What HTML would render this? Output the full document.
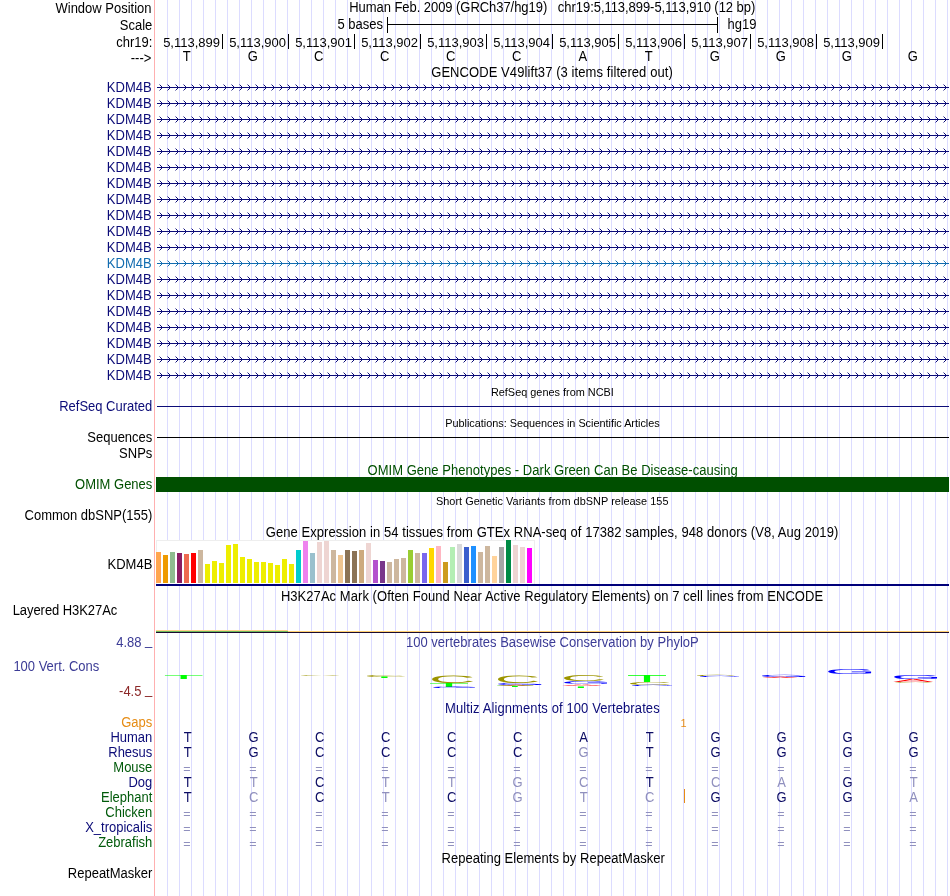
<!DOCTYPE html>
<html lang="en"><head><meta charset="utf-8"><title>UCSC Genome Browser chr19:5,113,899-5,113,910</title>
<style>html,body{margin:0;padding:0;background:#fff;}svg{display:block;will-change:transform;-webkit-font-smoothing:antialiased;font-family:"Liberation Sans",Arial,Helvetica,sans-serif;}</style>
</head><body>
<svg width="950" height="896" viewBox="0 0 950 896">
<defs>
<pattern id="chN" x="157" y="84" width="8" height="16" patternUnits="userSpaceOnUse">
<rect x="2" y="0" width="1" height="1" fill="#0c0c78" opacity="0.45"/>
<rect x="3" y="1" width="1" height="1" fill="#0c0c78"/>
<rect x="4" y="2" width="1" height="3" fill="#0c0c78"/>
<rect x="3" y="5" width="1" height="1" fill="#0c0c78"/>
<rect x="2" y="6" width="1" height="1" fill="#0c0c78" opacity="0.45"/>
</pattern>
<pattern id="chT" x="157" y="84" width="8" height="16" patternUnits="userSpaceOnUse">
<rect x="2" y="0" width="1" height="1" fill="#126cb0" opacity="0.45"/>
<rect x="3" y="1" width="1" height="1" fill="#126cb0"/>
<rect x="4" y="2" width="1" height="3" fill="#126cb0"/>
<rect x="3" y="5" width="1" height="1" fill="#126cb0"/>
<rect x="2" y="6" width="1" height="1" fill="#126cb0" opacity="0.45"/>
</pattern>
</defs>
<rect width="950" height="896" fill="#fff"/>
<g shape-rendering="crispEdges">
<path d="M167.5 0V896M179.5 0V896M191.5 0V896M203.5 0V896M215.5 0V896M227.5 0V896M239.5 0V896M251.5 0V896M263.5 0V896M275.5 0V896M287.5 0V896M299.5 0V896M311.5 0V896M323.5 0V896M335.5 0V896M347.5 0V896M359.5 0V896M371.5 0V896M383.5 0V896M395.5 0V896M407.5 0V896M419.5 0V896M431.5 0V896M443.5 0V896M455.5 0V896M467.5 0V896M479.5 0V896M491.5 0V896M503.5 0V896M515.5 0V896M527.5 0V896M539.5 0V896M551.5 0V896M563.5 0V896M575.5 0V896M587.5 0V896M599.5 0V896M611.5 0V896M623.5 0V896M635.5 0V896M647.5 0V896M659.5 0V896M671.5 0V896M683.5 0V896M695.5 0V896M707.5 0V896M719.5 0V896M731.5 0V896M743.5 0V896M755.5 0V896M767.5 0V896M779.5 0V896M791.5 0V896M803.5 0V896M815.5 0V896M827.5 0V896M839.5 0V896M851.5 0V896M863.5 0V896M875.5 0V896M887.5 0V896M899.5 0V896M911.5 0V896M923.5 0V896M935.5 0V896M947.5 0V896" stroke="#dcdcff" stroke-width="1" fill="none"/>
<rect x="154" y="0" width="1" height="896" fill="#ffb0b0"/>
</g>
<text transform="translate(151.5 13) scale(1 1.08)" fill="#000" font-size="13" text-anchor="end">Window Position</text>
<text transform="translate(349.2 12) scale(1 1.08)" fill="#000" font-size="13" textLength="406.1" lengthAdjust="spacing" style="white-space:pre">Human Feb. 2009 (GRCh37/hg19)   chr19:5,113,899-5,113,910 (12 bp)</text>
<text transform="translate(152.3 30) scale(1 1.08)" fill="#000" font-size="13" text-anchor="end">Scale</text>
<text transform="translate(383 29) scale(1 1.08)" fill="#000" font-size="13" text-anchor="end">5 bases</text>
<text transform="translate(727.5 29) scale(1 1.08)" fill="#000" font-size="13">hg19</text>
<g shape-rendering="crispEdges" fill="#000">
<rect x="387" y="24" width="331" height="1" fill="#000"/>
<rect x="387" y="17" width="1" height="16" fill="#000"/>
<rect x="717" y="17" width="1" height="16" fill="#000"/>
<rect x="222" y="34" width="1" height="15" fill="#000"/>
<rect x="288" y="34" width="1" height="15" fill="#000"/>
<rect x="354" y="34" width="1" height="15" fill="#000"/>
<rect x="420" y="34" width="1" height="15" fill="#000"/>
<rect x="486" y="34" width="1" height="15" fill="#000"/>
<rect x="552" y="34" width="1" height="15" fill="#000"/>
<rect x="618" y="34" width="1" height="15" fill="#000"/>
<rect x="684" y="34" width="1" height="15" fill="#000"/>
<rect x="750" y="34" width="1" height="15" fill="#000"/>
<rect x="816" y="34" width="1" height="15" fill="#000"/>
<rect x="882" y="34" width="1" height="15" fill="#000"/>
</g>
<text transform="translate(152.3 47) scale(1 1.08)" fill="#000" font-size="13" text-anchor="end">chr19:</text>
<text transform="translate(220 47) scale(1 1.0)" fill="#000" font-size="13" text-anchor="end">5,113,899</text>
<text transform="translate(286 47) scale(1 1.0)" fill="#000" font-size="13" text-anchor="end">5,113,900</text>
<text transform="translate(352 47) scale(1 1.0)" fill="#000" font-size="13" text-anchor="end">5,113,901</text>
<text transform="translate(418 47) scale(1 1.0)" fill="#000" font-size="13" text-anchor="end">5,113,902</text>
<text transform="translate(484 47) scale(1 1.0)" fill="#000" font-size="13" text-anchor="end">5,113,903</text>
<text transform="translate(550 47) scale(1 1.0)" fill="#000" font-size="13" text-anchor="end">5,113,904</text>
<text transform="translate(616 47) scale(1 1.0)" fill="#000" font-size="13" text-anchor="end">5,113,905</text>
<text transform="translate(682 47) scale(1 1.0)" fill="#000" font-size="13" text-anchor="end">5,113,906</text>
<text transform="translate(748 47) scale(1 1.0)" fill="#000" font-size="13" text-anchor="end">5,113,907</text>
<text transform="translate(814 47) scale(1 1.0)" fill="#000" font-size="13" text-anchor="end">5,113,908</text>
<text transform="translate(880 47) scale(1 1.0)" fill="#000" font-size="13" text-anchor="end">5,113,909</text>
<text transform="translate(151.3 63) scale(1 1.08)" fill="#000" font-size="13" text-anchor="end">---&gt;</text>
<text transform="translate(186.8 61) scale(1 1.08)" fill="#000" font-size="13" text-anchor="middle">T</text>
<text transform="translate(252.8 61) scale(1 1.08)" fill="#000" font-size="13" text-anchor="middle">G</text>
<text transform="translate(318.8 61) scale(1 1.08)" fill="#000" font-size="13" text-anchor="middle">C</text>
<text transform="translate(384.8 61) scale(1 1.08)" fill="#000" font-size="13" text-anchor="middle">C</text>
<text transform="translate(450.8 61) scale(1 1.08)" fill="#000" font-size="13" text-anchor="middle">C</text>
<text transform="translate(516.8 61) scale(1 1.08)" fill="#000" font-size="13" text-anchor="middle">C</text>
<text transform="translate(582.8 61) scale(1 1.08)" fill="#000" font-size="13" text-anchor="middle">A</text>
<text transform="translate(648.8 61) scale(1 1.08)" fill="#000" font-size="13" text-anchor="middle">T</text>
<text transform="translate(714.8 61) scale(1 1.08)" fill="#000" font-size="13" text-anchor="middle">G</text>
<text transform="translate(780.8 61) scale(1 1.08)" fill="#000" font-size="13" text-anchor="middle">G</text>
<text transform="translate(846.8 61) scale(1 1.08)" fill="#000" font-size="13" text-anchor="middle">G</text>
<text transform="translate(912.8 61) scale(1 1.08)" fill="#000" font-size="13" text-anchor="middle">G</text>
<text transform="translate(431.2 77.3) scale(1 1.08)" fill="#000" font-size="13" textLength="241.6" lengthAdjust="spacing">GENCODE V49lift37 (3 items filtered out)</text>
<g shape-rendering="crispEdges">
<rect x="157" y="87" width="792" height="1" fill="#0c0c78"/>
<rect x="157" y="84" width="792" height="7" fill="url(#chN)"/>
<rect x="157" y="103" width="792" height="1" fill="#0c0c78"/>
<rect x="157" y="100" width="792" height="7" fill="url(#chN)"/>
<rect x="157" y="119" width="792" height="1" fill="#0c0c78"/>
<rect x="157" y="116" width="792" height="7" fill="url(#chN)"/>
<rect x="157" y="135" width="792" height="1" fill="#0c0c78"/>
<rect x="157" y="132" width="792" height="7" fill="url(#chN)"/>
<rect x="157" y="151" width="792" height="1" fill="#0c0c78"/>
<rect x="157" y="148" width="792" height="7" fill="url(#chN)"/>
<rect x="157" y="167" width="792" height="1" fill="#0c0c78"/>
<rect x="157" y="164" width="792" height="7" fill="url(#chN)"/>
<rect x="157" y="183" width="792" height="1" fill="#0c0c78"/>
<rect x="157" y="180" width="792" height="7" fill="url(#chN)"/>
<rect x="157" y="199" width="792" height="1" fill="#0c0c78"/>
<rect x="157" y="196" width="792" height="7" fill="url(#chN)"/>
<rect x="157" y="215" width="792" height="1" fill="#0c0c78"/>
<rect x="157" y="212" width="792" height="7" fill="url(#chN)"/>
<rect x="157" y="231" width="792" height="1" fill="#0c0c78"/>
<rect x="157" y="228" width="792" height="7" fill="url(#chN)"/>
<rect x="157" y="247" width="792" height="1" fill="#0c0c78"/>
<rect x="157" y="244" width="792" height="7" fill="url(#chN)"/>
<rect x="157" y="263" width="792" height="1" fill="#126cb0"/>
<rect x="157" y="260" width="792" height="7" fill="url(#chT)"/>
<rect x="157" y="279" width="792" height="1" fill="#0c0c78"/>
<rect x="157" y="276" width="792" height="7" fill="url(#chN)"/>
<rect x="157" y="295" width="792" height="1" fill="#0c0c78"/>
<rect x="157" y="292" width="792" height="7" fill="url(#chN)"/>
<rect x="157" y="311" width="792" height="1" fill="#0c0c78"/>
<rect x="157" y="308" width="792" height="7" fill="url(#chN)"/>
<rect x="157" y="327" width="792" height="1" fill="#0c0c78"/>
<rect x="157" y="324" width="792" height="7" fill="url(#chN)"/>
<rect x="157" y="343" width="792" height="1" fill="#0c0c78"/>
<rect x="157" y="340" width="792" height="7" fill="url(#chN)"/>
<rect x="157" y="359" width="792" height="1" fill="#0c0c78"/>
<rect x="157" y="356" width="792" height="7" fill="url(#chN)"/>
<rect x="157" y="375" width="792" height="1" fill="#0c0c78"/>
<rect x="157" y="372" width="792" height="7" fill="url(#chN)"/>
</g>
<text transform="translate(151.6 92) scale(1 1.08)" fill="#0c0c78" font-size="13" text-anchor="end">KDM4B</text>
<text transform="translate(151.6 108) scale(1 1.08)" fill="#0c0c78" font-size="13" text-anchor="end">KDM4B</text>
<text transform="translate(151.6 124) scale(1 1.08)" fill="#0c0c78" font-size="13" text-anchor="end">KDM4B</text>
<text transform="translate(151.6 140) scale(1 1.08)" fill="#0c0c78" font-size="13" text-anchor="end">KDM4B</text>
<text transform="translate(151.6 156) scale(1 1.08)" fill="#0c0c78" font-size="13" text-anchor="end">KDM4B</text>
<text transform="translate(151.6 172) scale(1 1.08)" fill="#0c0c78" font-size="13" text-anchor="end">KDM4B</text>
<text transform="translate(151.6 188) scale(1 1.08)" fill="#0c0c78" font-size="13" text-anchor="end">KDM4B</text>
<text transform="translate(151.6 204) scale(1 1.08)" fill="#0c0c78" font-size="13" text-anchor="end">KDM4B</text>
<text transform="translate(151.6 220) scale(1 1.08)" fill="#0c0c78" font-size="13" text-anchor="end">KDM4B</text>
<text transform="translate(151.6 236) scale(1 1.08)" fill="#0c0c78" font-size="13" text-anchor="end">KDM4B</text>
<text transform="translate(151.6 252) scale(1 1.08)" fill="#0c0c78" font-size="13" text-anchor="end">KDM4B</text>
<text transform="translate(151.6 268) scale(1 1.08)" fill="#126cb0" font-size="13" text-anchor="end">KDM4B</text>
<text transform="translate(151.6 284) scale(1 1.08)" fill="#0c0c78" font-size="13" text-anchor="end">KDM4B</text>
<text transform="translate(151.6 300) scale(1 1.08)" fill="#0c0c78" font-size="13" text-anchor="end">KDM4B</text>
<text transform="translate(151.6 316) scale(1 1.08)" fill="#0c0c78" font-size="13" text-anchor="end">KDM4B</text>
<text transform="translate(151.6 332) scale(1 1.08)" fill="#0c0c78" font-size="13" text-anchor="end">KDM4B</text>
<text transform="translate(151.6 348) scale(1 1.08)" fill="#0c0c78" font-size="13" text-anchor="end">KDM4B</text>
<text transform="translate(151.6 364) scale(1 1.08)" fill="#0c0c78" font-size="13" text-anchor="end">KDM4B</text>
<text transform="translate(151.6 380) scale(1 1.08)" fill="#0c0c78" font-size="13" text-anchor="end">KDM4B</text>
<text transform="translate(490.9 396) scale(1 1.03)" fill="#000" font-size="10.9" textLength="123.0" lengthAdjust="spacing">RefSeq genes from NCBI</text>
<text transform="translate(152.3 410.5) scale(1 1.08)" fill="#0c0c78" font-size="13" text-anchor="end">RefSeq Curated</text>
<g shape-rendering="crispEdges">
<rect x="157" y="406" width="792" height="1" fill="#0c0c78"/>
<rect x="157" y="437" width="792" height="1" fill="#000"/>
<rect x="156" y="477" width="793" height="15" fill="#004f00"/>
</g>
<text transform="translate(445.2 427) scale(1 1.03)" fill="#000" font-size="10.9" textLength="214.5" lengthAdjust="spacing">Publications: Sequences in Scientific Articles</text>
<text transform="translate(152.3 441.5) scale(1 1.08)" fill="#000" font-size="13" text-anchor="end">Sequences</text>
<text transform="translate(152.3 457.5) scale(1 1.08)" fill="#000" font-size="13" text-anchor="end">SNPs</text>
<text transform="translate(367.6 474.5) scale(1 1.08)" fill="#005000" font-size="13" textLength="370.1" lengthAdjust="spacing">OMIM Gene Phenotypes - Dark Green Can Be Disease-causing</text>
<text transform="translate(152.3 488.5) scale(1 1.08)" fill="#005000" font-size="13" text-anchor="end">OMIM Genes</text>
<text transform="translate(435.9 505) scale(1 1.03)" fill="#000" font-size="10.9" textLength="232.6" lengthAdjust="spacing">Short Genetic Variants from dbSNP release 155</text>
<text transform="translate(152.3 519.5) scale(1 1.08)" fill="#000" font-size="13" text-anchor="end">Common dbSNP(155)</text>
<text transform="translate(265.8 536.5) scale(1 1.08)" fill="#000" font-size="13" textLength="572.5" lengthAdjust="spacing">Gene Expression in 54 tissues from GTEx RNA-seq of 17382 samples, 948 donors (V8, Aug 2019)</text>
<g shape-rendering="crispEdges">
<rect x="156" y="540" width="378" height="44" fill="#fff" stroke="#eeeeee" stroke-width="1"/>
<rect x="156" y="552" width="5" height="31" fill="#FFA54F"/>
<rect x="163" y="555" width="5" height="28" fill="#EE9A00"/>
<rect x="170" y="552" width="5" height="31" fill="#8FBC8F"/>
<rect x="177" y="553" width="5" height="30" fill="#8B1C62"/>
<rect x="184" y="554" width="5" height="29" fill="#EE6A50"/>
<rect x="191" y="553" width="5" height="30" fill="#FF0000"/>
<rect x="198" y="550" width="5" height="33" fill="#CDB79E"/>
<rect x="205" y="564" width="5" height="19" fill="#EEEE00"/>
<rect x="212" y="561" width="5" height="22" fill="#EEEE00"/>
<rect x="219" y="563" width="5" height="20" fill="#EEEE00"/>
<rect x="226" y="545" width="5" height="38" fill="#EEEE00"/>
<rect x="233" y="544" width="5" height="39" fill="#EEEE00"/>
<rect x="240" y="557" width="5" height="26" fill="#EEEE00"/>
<rect x="247" y="559" width="5" height="24" fill="#EEEE00"/>
<rect x="254" y="562" width="5" height="21" fill="#EEEE00"/>
<rect x="261" y="562" width="5" height="21" fill="#EEEE00"/>
<rect x="268" y="563" width="5" height="20" fill="#EEEE00"/>
<rect x="275" y="565" width="5" height="18" fill="#EEEE00"/>
<rect x="282" y="559" width="5" height="24" fill="#EEEE00"/>
<rect x="289" y="564" width="5" height="19" fill="#EEEE00"/>
<rect x="296" y="550" width="5" height="33" fill="#00CDCD"/>
<rect x="303" y="541" width="5" height="42" fill="#EE82EE"/>
<rect x="310" y="553" width="5" height="30" fill="#9AC0CD"/>
<rect x="317" y="542" width="5" height="41" fill="#EED5D2"/>
<rect x="324" y="541" width="5" height="42" fill="#EED5D2"/>
<rect x="331" y="550" width="5" height="33" fill="#CDB79E"/>
<rect x="338" y="555" width="5" height="28" fill="#EEC591"/>
<rect x="345" y="550" width="5" height="33" fill="#8B7355"/>
<rect x="352" y="551" width="5" height="32" fill="#8B7355"/>
<rect x="359" y="550" width="5" height="33" fill="#CDAA7D"/>
<rect x="366" y="543" width="5" height="40" fill="#EED5D2"/>
<rect x="373" y="560" width="5" height="23" fill="#B452CD"/>
<rect x="380" y="561" width="5" height="22" fill="#7A378B"/>
<rect x="387" y="562" width="5" height="21" fill="#CDB79E"/>
<rect x="394" y="559" width="5" height="24" fill="#CDB79E"/>
<rect x="401" y="558" width="5" height="25" fill="#CDB79E"/>
<rect x="408" y="550" width="5" height="33" fill="#9ACD32"/>
<rect x="415" y="553" width="5" height="30" fill="#CDB79E"/>
<rect x="422" y="553" width="5" height="30" fill="#7A67EE"/>
<rect x="429" y="548" width="5" height="35" fill="#FFD700"/>
<rect x="436" y="546" width="5" height="37" fill="#FFB6C1"/>
<rect x="443" y="562" width="5" height="21" fill="#CD9B1D"/>
<rect x="450" y="547" width="5" height="36" fill="#B4EEB4"/>
<rect x="457" y="544" width="5" height="39" fill="#D9D9D9"/>
<rect x="464" y="547" width="5" height="36" fill="#3A5FCD"/>
<rect x="471" y="546" width="5" height="37" fill="#1E90FF"/>
<rect x="478" y="552" width="5" height="31" fill="#CDB79E"/>
<rect x="485" y="546" width="5" height="37" fill="#CDB79E"/>
<rect x="492" y="556" width="5" height="27" fill="#FFD39B"/>
<rect x="499" y="547" width="5" height="36" fill="#A6A6A6"/>
<rect x="506" y="540" width="5" height="43" fill="#008B45"/>
<rect x="513" y="545" width="5" height="38" fill="#EED5D2"/>
<rect x="520" y="547" width="5" height="36" fill="#EED5D2"/>
<rect x="527" y="548" width="5" height="35" fill="#FF00FF"/>
<rect x="156" y="584" width="793" height="2" fill="#00007a"/>
</g>
<text transform="translate(152.3 568.5) scale(1 1.08)" fill="#000" font-size="13" text-anchor="end">KDM4B</text>
<text transform="translate(280.9 600.6) scale(1 1.08)" fill="#000" font-size="13" textLength="542.2" lengthAdjust="spacing">H3K27Ac Mark (Often Found Near Active Regulatory Elements) on 7 cell lines from ENCODE</text>
<text transform="translate(12.7 614.7) scale(1 1.08)" fill="#000" font-size="13" textLength="104.6" lengthAdjust="spacing">Layered H3K27Ac</text>
<g shape-rendering="crispEdges">
<rect x="156" y="630" width="132" height="1" fill="#ffd28c"/>
<rect x="156" y="631" width="132" height="1" fill="#6cb85a"/>
<rect x="288" y="631" width="661" height="1" fill="#ffd070"/>
<rect x="156" y="632" width="793" height="1" fill="#1c0c30"/>
</g>
<text transform="translate(405.9 646.8) scale(1 1.08)" fill="#3c3c96" font-size="13" textLength="292.9" lengthAdjust="spacing">100 vertebrates Basewise Conservation by PhyloP</text>
<text transform="translate(152.3 646.5) scale(1 1.08)" fill="#3c3c96" font-size="13" text-anchor="end">4.88 <tspan dy="-1.5">_</tspan></text>
<text transform="translate(99.3 670.7) scale(1 1.08)" fill="#3c3c96" font-size="13" text-anchor="end">100 Vert. Cons</text>
<text transform="translate(152.3 695.5) scale(1 1.08)" fill="#8c2828" font-size="13" text-anchor="end">-4.5 <tspan dy="-1.5">_</tspan></text>
<g text-rendering="geometricPrecision">
<text transform="translate(163.51 679.00) scale(1.034 0.091)" font-size="64" fill="#00ff00">T</text>
<text transform="translate(297.87 675.99) scale(0.962 0.022)" font-size="64" fill="#9c9400">C</text>
<text transform="translate(363.87 676.97) scale(0.962 0.044)" font-size="64" fill="#9c9400">C</text>
<text transform="translate(364.53 678.20) scale(1.022 0.036)" font-size="64" fill="#00ff00">T</text>
<text transform="translate(428.71 682.50) scale(1.012 0.168)" font-size="64" fill="#9c9400">C</text>
<text transform="translate(428.49 687.00) scale(1.050 0.091)" font-size="64" fill="#00ff00">T</text>
<text transform="translate(429.76 688.18) scale(1.005 0.035)" font-size="64" fill="#0000ff">G</text>
<text transform="translate(494.79 682.59) scale(0.987 0.170)" font-size="64" fill="#9c9400">C</text>
<text transform="translate(494.69 684.97) scale(1.029 0.044)" font-size="64" fill="#0000ff">G</text>
<text transform="translate(496.89 686.20) scale(0.895 0.027)" font-size="64" fill="#ff0000">A</text>
<text transform="translate(495.57 687.20) scale(0.995 0.027)" font-size="64" fill="#00ff00">T</text>
<text transform="translate(560.79 680.92) scale(0.987 0.132)" font-size="64" fill="#9c9400">C</text>
<text transform="translate(560.69 683.96) scale(1.029 0.066)" font-size="64" fill="#0000ff">G</text>
<text transform="translate(561.88 685.60) scale(0.943 0.036)" font-size="64" fill="#ff0000">A</text>
<text transform="translate(561.57 687.60) scale(0.995 0.036)" font-size="64" fill="#00ff00">T</text>
<text transform="translate(626.49 682.00) scale(1.050 0.159)" font-size="64" fill="#00ff00">T</text>
<text transform="translate(626.79 684.96) scale(0.987 0.066)" font-size="64" fill="#9c9400">C</text>
<text transform="translate(628.92 686.18) scale(0.957 0.026)" font-size="64" fill="#0000ff">G</text>
<text transform="translate(693.95 676.18) scale(0.938 0.026)" font-size="64" fill="#9c9400">C</text>
<text transform="translate(697.00 677.18) scale(0.933 0.026)" font-size="64" fill="#0000ff">G</text>
<text transform="translate(758.69 677.17) scale(1.029 0.049)" font-size="64" fill="#0000ff">G</text>
<text transform="translate(761.89 678.20) scale(0.848 0.027)" font-size="64" fill="#ff0000">A</text>
<text transform="translate(824.69 673.93) scale(1.029 0.110)" font-size="64" fill="#0000ff">G</text>
<text transform="translate(890.69 678.94) scale(1.029 0.088)" font-size="64" fill="#0000ff">G</text>
<text transform="translate(892.88 682.00) scale(0.943 0.068)" font-size="64" fill="#ff0000">A</text>
<text transform="translate(891.95 682.99) scale(0.938 0.022)" font-size="64" fill="#9c9400">C</text>
</g>
<text transform="translate(445.1 712.6) scale(1 1.08)" fill="#0c0c78" font-size="13" textLength="214.6" lengthAdjust="spacing">Multiz Alignments of 100 Vertebrates</text>
<text transform="translate(152.3 726.5) scale(1 1.08)" fill="#e68c14" font-size="13" text-anchor="end">Gaps</text>
<text transform="translate(683.5 726.5) scale(1 1.03)" fill="#e68c14" font-size="11" text-anchor="middle">1</text>
<text transform="translate(152.3 741.5) scale(1 1.08)" fill="#0c0c78" font-size="13" text-anchor="end">Human</text>
<text transform="translate(187.6 741.5) scale(1 1.08)" fill="#0c0c64" font-size="13" text-anchor="middle">T</text>
<text transform="translate(253.6 741.5) scale(1 1.08)" fill="#0c0c64" font-size="13" text-anchor="middle">G</text>
<text transform="translate(319.6 741.5) scale(1 1.08)" fill="#0c0c64" font-size="13" text-anchor="middle">C</text>
<text transform="translate(385.6 741.5) scale(1 1.08)" fill="#0c0c64" font-size="13" text-anchor="middle">C</text>
<text transform="translate(451.6 741.5) scale(1 1.08)" fill="#0c0c64" font-size="13" text-anchor="middle">C</text>
<text transform="translate(517.6 741.5) scale(1 1.08)" fill="#0c0c64" font-size="13" text-anchor="middle">C</text>
<text transform="translate(583.6 741.5) scale(1 1.08)" fill="#0c0c64" font-size="13" text-anchor="middle">A</text>
<text transform="translate(649.6 741.5) scale(1 1.08)" fill="#0c0c64" font-size="13" text-anchor="middle">T</text>
<text transform="translate(715.6 741.5) scale(1 1.08)" fill="#0c0c64" font-size="13" text-anchor="middle">G</text>
<text transform="translate(781.6 741.5) scale(1 1.08)" fill="#0c0c64" font-size="13" text-anchor="middle">G</text>
<text transform="translate(847.6 741.5) scale(1 1.08)" fill="#0c0c64" font-size="13" text-anchor="middle">G</text>
<text transform="translate(913.6 741.5) scale(1 1.08)" fill="#0c0c64" font-size="13" text-anchor="middle">G</text>
<text transform="translate(152.3 756.5) scale(1 1.08)" fill="#0c0c78" font-size="13" text-anchor="end">Rhesus</text>
<text transform="translate(187.6 756.5) scale(1 1.08)" fill="#0c0c64" font-size="13" text-anchor="middle">T</text>
<text transform="translate(253.6 756.5) scale(1 1.08)" fill="#0c0c64" font-size="13" text-anchor="middle">G</text>
<text transform="translate(319.6 756.5) scale(1 1.08)" fill="#0c0c64" font-size="13" text-anchor="middle">C</text>
<text transform="translate(385.6 756.5) scale(1 1.08)" fill="#0c0c64" font-size="13" text-anchor="middle">C</text>
<text transform="translate(451.6 756.5) scale(1 1.08)" fill="#0c0c64" font-size="13" text-anchor="middle">C</text>
<text transform="translate(517.6 756.5) scale(1 1.08)" fill="#0c0c64" font-size="13" text-anchor="middle">C</text>
<text transform="translate(583.6 756.5) scale(1 1.08)" fill="#9090be" font-size="13" text-anchor="middle">G</text>
<text transform="translate(649.6 756.5) scale(1 1.08)" fill="#0c0c64" font-size="13" text-anchor="middle">T</text>
<text transform="translate(715.6 756.5) scale(1 1.08)" fill="#0c0c64" font-size="13" text-anchor="middle">G</text>
<text transform="translate(781.6 756.5) scale(1 1.08)" fill="#0c0c64" font-size="13" text-anchor="middle">G</text>
<text transform="translate(847.6 756.5) scale(1 1.08)" fill="#0c0c64" font-size="13" text-anchor="middle">G</text>
<text transform="translate(913.6 756.5) scale(1 1.08)" fill="#0c0c64" font-size="13" text-anchor="middle">G</text>
<text transform="translate(152.3 771.5) scale(1 1.08)" fill="#005a0a" font-size="13" text-anchor="end">Mouse</text>
<text x="186.8" y="773.1" fill="#9090be" font-size="12.5" text-anchor="middle">=</text>
<text x="252.8" y="773.1" fill="#9090be" font-size="12.5" text-anchor="middle">=</text>
<text x="318.8" y="773.1" fill="#9090be" font-size="12.5" text-anchor="middle">=</text>
<text x="384.8" y="773.1" fill="#9090be" font-size="12.5" text-anchor="middle">=</text>
<text x="450.8" y="773.1" fill="#9090be" font-size="12.5" text-anchor="middle">=</text>
<text x="516.8" y="773.1" fill="#9090be" font-size="12.5" text-anchor="middle">=</text>
<text x="582.8" y="773.1" fill="#9090be" font-size="12.5" text-anchor="middle">=</text>
<text x="648.8" y="773.1" fill="#9090be" font-size="12.5" text-anchor="middle">=</text>
<text x="714.8" y="773.1" fill="#9090be" font-size="12.5" text-anchor="middle">=</text>
<text x="780.8" y="773.1" fill="#9090be" font-size="12.5" text-anchor="middle">=</text>
<text x="846.8" y="773.1" fill="#9090be" font-size="12.5" text-anchor="middle">=</text>
<text x="912.8" y="773.1" fill="#9090be" font-size="12.5" text-anchor="middle">=</text>
<text transform="translate(152.3 786.5) scale(1 1.08)" fill="#0c0c78" font-size="13" text-anchor="end">Dog</text>
<text transform="translate(187.6 786.5) scale(1 1.08)" fill="#0c0c64" font-size="13" text-anchor="middle">T</text>
<text transform="translate(253.6 786.5) scale(1 1.08)" fill="#9090be" font-size="13" text-anchor="middle">T</text>
<text transform="translate(319.6 786.5) scale(1 1.08)" fill="#0c0c64" font-size="13" text-anchor="middle">C</text>
<text transform="translate(385.6 786.5) scale(1 1.08)" fill="#9090be" font-size="13" text-anchor="middle">T</text>
<text transform="translate(451.6 786.5) scale(1 1.08)" fill="#9090be" font-size="13" text-anchor="middle">T</text>
<text transform="translate(517.6 786.5) scale(1 1.08)" fill="#9090be" font-size="13" text-anchor="middle">G</text>
<text transform="translate(583.6 786.5) scale(1 1.08)" fill="#9090be" font-size="13" text-anchor="middle">C</text>
<text transform="translate(649.6 786.5) scale(1 1.08)" fill="#0c0c64" font-size="13" text-anchor="middle">T</text>
<text transform="translate(715.6 786.5) scale(1 1.08)" fill="#9090be" font-size="13" text-anchor="middle">C</text>
<text transform="translate(781.6 786.5) scale(1 1.08)" fill="#9090be" font-size="13" text-anchor="middle">A</text>
<text transform="translate(847.6 786.5) scale(1 1.08)" fill="#0c0c64" font-size="13" text-anchor="middle">G</text>
<text transform="translate(913.6 786.5) scale(1 1.08)" fill="#9090be" font-size="13" text-anchor="middle">T</text>
<text transform="translate(152.3 801.5) scale(1 1.08)" fill="#005a0a" font-size="13" text-anchor="end">Elephant</text>
<text transform="translate(187.6 801.5) scale(1 1.08)" fill="#0c0c64" font-size="13" text-anchor="middle">T</text>
<text transform="translate(253.6 801.5) scale(1 1.08)" fill="#9090be" font-size="13" text-anchor="middle">C</text>
<text transform="translate(319.6 801.5) scale(1 1.08)" fill="#0c0c64" font-size="13" text-anchor="middle">C</text>
<text transform="translate(385.6 801.5) scale(1 1.08)" fill="#9090be" font-size="13" text-anchor="middle">T</text>
<text transform="translate(451.6 801.5) scale(1 1.08)" fill="#0c0c64" font-size="13" text-anchor="middle">C</text>
<text transform="translate(517.6 801.5) scale(1 1.08)" fill="#9090be" font-size="13" text-anchor="middle">G</text>
<text transform="translate(583.6 801.5) scale(1 1.08)" fill="#9090be" font-size="13" text-anchor="middle">T</text>
<text transform="translate(649.6 801.5) scale(1 1.08)" fill="#9090be" font-size="13" text-anchor="middle">C</text>
<text transform="translate(715.6 801.5) scale(1 1.08)" fill="#0c0c64" font-size="13" text-anchor="middle">G</text>
<text transform="translate(781.6 801.5) scale(1 1.08)" fill="#0c0c64" font-size="13" text-anchor="middle">G</text>
<text transform="translate(847.6 801.5) scale(1 1.08)" fill="#0c0c64" font-size="13" text-anchor="middle">G</text>
<text transform="translate(913.6 801.5) scale(1 1.08)" fill="#9090be" font-size="13" text-anchor="middle">A</text>
<text transform="translate(152.3 816.5) scale(1 1.08)" fill="#005a0a" font-size="13" text-anchor="end">Chicken</text>
<text x="186.8" y="818.1" fill="#9090be" font-size="12.5" text-anchor="middle">=</text>
<text x="252.8" y="818.1" fill="#9090be" font-size="12.5" text-anchor="middle">=</text>
<text x="318.8" y="818.1" fill="#9090be" font-size="12.5" text-anchor="middle">=</text>
<text x="384.8" y="818.1" fill="#9090be" font-size="12.5" text-anchor="middle">=</text>
<text x="450.8" y="818.1" fill="#9090be" font-size="12.5" text-anchor="middle">=</text>
<text x="516.8" y="818.1" fill="#9090be" font-size="12.5" text-anchor="middle">=</text>
<text x="582.8" y="818.1" fill="#9090be" font-size="12.5" text-anchor="middle">=</text>
<text x="648.8" y="818.1" fill="#9090be" font-size="12.5" text-anchor="middle">=</text>
<text x="714.8" y="818.1" fill="#9090be" font-size="12.5" text-anchor="middle">=</text>
<text x="780.8" y="818.1" fill="#9090be" font-size="12.5" text-anchor="middle">=</text>
<text x="846.8" y="818.1" fill="#9090be" font-size="12.5" text-anchor="middle">=</text>
<text x="912.8" y="818.1" fill="#9090be" font-size="12.5" text-anchor="middle">=</text>
<text transform="translate(152.3 831.5) scale(1 1.08)" fill="#0c0c78" font-size="13" text-anchor="end">X_tropicalis</text>
<text x="186.8" y="833.1" fill="#9090be" font-size="12.5" text-anchor="middle">=</text>
<text x="252.8" y="833.1" fill="#9090be" font-size="12.5" text-anchor="middle">=</text>
<text x="318.8" y="833.1" fill="#9090be" font-size="12.5" text-anchor="middle">=</text>
<text x="384.8" y="833.1" fill="#9090be" font-size="12.5" text-anchor="middle">=</text>
<text x="450.8" y="833.1" fill="#9090be" font-size="12.5" text-anchor="middle">=</text>
<text x="516.8" y="833.1" fill="#9090be" font-size="12.5" text-anchor="middle">=</text>
<text x="582.8" y="833.1" fill="#9090be" font-size="12.5" text-anchor="middle">=</text>
<text x="648.8" y="833.1" fill="#9090be" font-size="12.5" text-anchor="middle">=</text>
<text x="714.8" y="833.1" fill="#9090be" font-size="12.5" text-anchor="middle">=</text>
<text x="780.8" y="833.1" fill="#9090be" font-size="12.5" text-anchor="middle">=</text>
<text x="846.8" y="833.1" fill="#9090be" font-size="12.5" text-anchor="middle">=</text>
<text x="912.8" y="833.1" fill="#9090be" font-size="12.5" text-anchor="middle">=</text>
<text transform="translate(152.3 846.5) scale(1 1.08)" fill="#005a0a" font-size="13" text-anchor="end">Zebrafish</text>
<text x="186.8" y="848.1" fill="#9090be" font-size="12.5" text-anchor="middle">=</text>
<text x="252.8" y="848.1" fill="#9090be" font-size="12.5" text-anchor="middle">=</text>
<text x="318.8" y="848.1" fill="#9090be" font-size="12.5" text-anchor="middle">=</text>
<text x="384.8" y="848.1" fill="#9090be" font-size="12.5" text-anchor="middle">=</text>
<text x="450.8" y="848.1" fill="#9090be" font-size="12.5" text-anchor="middle">=</text>
<text x="516.8" y="848.1" fill="#9090be" font-size="12.5" text-anchor="middle">=</text>
<text x="582.8" y="848.1" fill="#9090be" font-size="12.5" text-anchor="middle">=</text>
<text x="648.8" y="848.1" fill="#9090be" font-size="12.5" text-anchor="middle">=</text>
<text x="714.8" y="848.1" fill="#9090be" font-size="12.5" text-anchor="middle">=</text>
<text x="780.8" y="848.1" fill="#9090be" font-size="12.5" text-anchor="middle">=</text>
<text x="846.8" y="848.1" fill="#9090be" font-size="12.5" text-anchor="middle">=</text>
<text x="912.8" y="848.1" fill="#9090be" font-size="12.5" text-anchor="middle">=</text>
<g shape-rendering="crispEdges">
<rect x="684" y="789" width="1" height="14" fill="#e68c14"/>
</g>
<text transform="translate(441.5 862.6) scale(1 1.08)" fill="#000" font-size="13" textLength="223.3" lengthAdjust="spacing">Repeating Elements by RepeatMasker</text>
<text transform="translate(152.3 877.5) scale(1 1.08)" fill="#000" font-size="13" text-anchor="end">RepeatMasker</text>
</svg>
</body></html>
